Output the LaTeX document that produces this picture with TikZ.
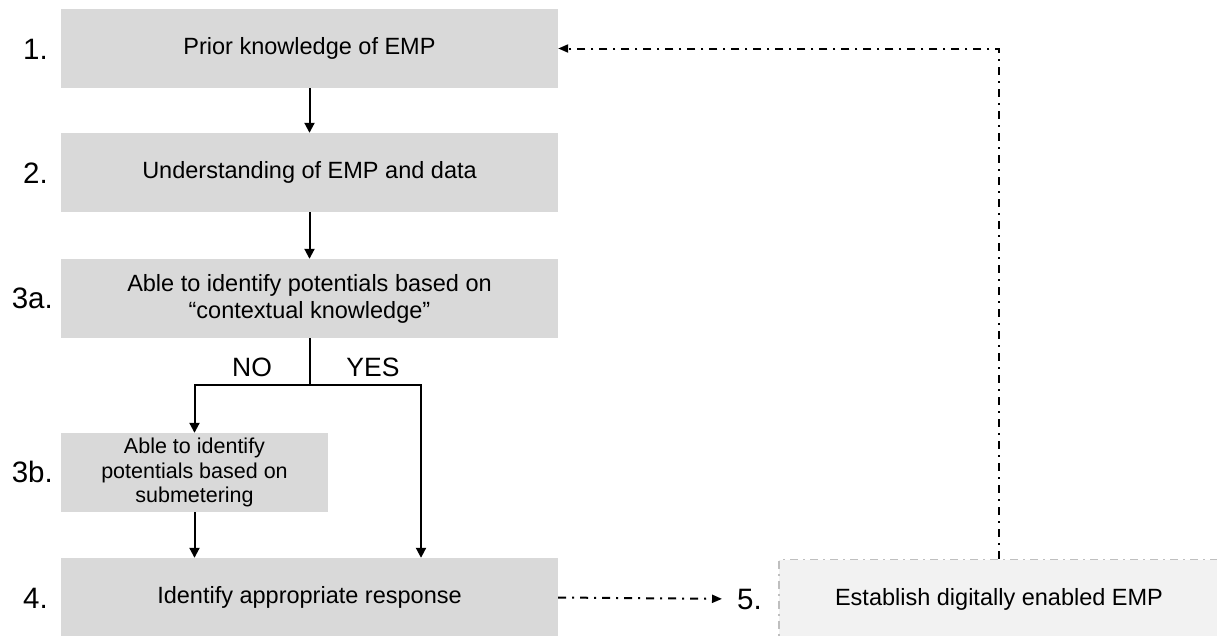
\documentclass[tikz,border=0pt]{standalone}
\usepackage{fontspec}
\setmainfont{Liberation Sans}
\usetikzlibrary{arrows.meta,positioning,calc}
\definecolor{Box}{HTML}{D9D9D9}
\definecolor{Pale}{HTML}{F2F2F2}
\definecolor{Rim}{HTML}{BFBFBF}

\begin{document}
\begin{tikzpicture}[x=1pt, y=-1pt,
    stage/.style={fill=Box, minimum height=79pt, align=center, inner sep=0pt,
      font=\fontsize{23.5}{27}\selectfont},
    num/.style={anchor=east, inner sep=0pt, font=\fontsize{29.5}{32}\selectfont},
    flow/.style={line width=2pt, -{Triangle[length=10pt,width=10pt]}},
    backflow/.style={line width=2pt, dash pattern=on 8pt off 6pt on 2pt off 6pt,
      -{Triangle[length=10pt,width=8pt]}}]
        \useasboundingbox (0,0) rectangle (1217,635);
        % steps
        \node[stage, minimum width=497pt] (b1) at (309.5,48.5) {Prior knowledge of EMP};
        \node[stage, minimum width=497pt] (b2) at (309.5,172.5) {Understanding of EMP and data};
        \node[stage, minimum width=497pt] (b3a) at (309.5,298.5)
          {Able to identify potentials based on\\“contextual knowledge”};
        \node[stage, minimum width=267pt, font=\fontsize{21.5}{24.5}\selectfont] (b3b) at (194.5,472.5)
          {Able to identify\\potentials based on\\submetering};
        \node[stage, minimum width=497pt] (b4) at (309.5,597.5) {Identify appropriate response};
        \node[stage, minimum width=440pt, fill=Pale, draw=Rim, line width=1.5pt,
          dash pattern=on 8pt off 5pt on 2pt off 5pt] (b5) at (999,599) {Establish digitally enabled EMP};
        % numbers
        \node[num] (l1) at (48,49) {1.};
        \node[num] (l2) at (48,173) {2.};
        \node[num] (l3a) at (53,298) {3a.};
        \node[num] (l3b) at (53,472) {3b.};
        \node[num] (l4) at (48,598) {4.};
        \node[num, anchor=west] (l5) at (737,599) {5.};
        % decision
        \coordinate (split) at (309.5,385);
        \coordinate (yes) at (421,385);
        \node[font=\fontsize{26.5}{30}\selectfont] (no) at (252,367) {NO};
        \node[font=\fontsize{26.5}{30}\selectfont] (yestext) at (373,367) {YES};
        % arrows
        \draw[flow] (b1) -- (b2);
        \draw[flow] (b2) -- (b3a);
        \draw[line width=2pt] (b3a.south) -- (split);
        \draw[flow] (split) -| (b3b.north);
        \draw[flow] (split) -- (yes) -- (yes |- b4.north);
        \draw[flow] (b3b.south) -- (b3b.south |- b4.north);
        \draw[backflow, shorten >=15pt] (b4.east) -- (l5.west);
        \draw[backflow] (b5.north) -- (b5.north |- b1.east) -- (b1.east);
      \end{tikzpicture}
\end{document}
